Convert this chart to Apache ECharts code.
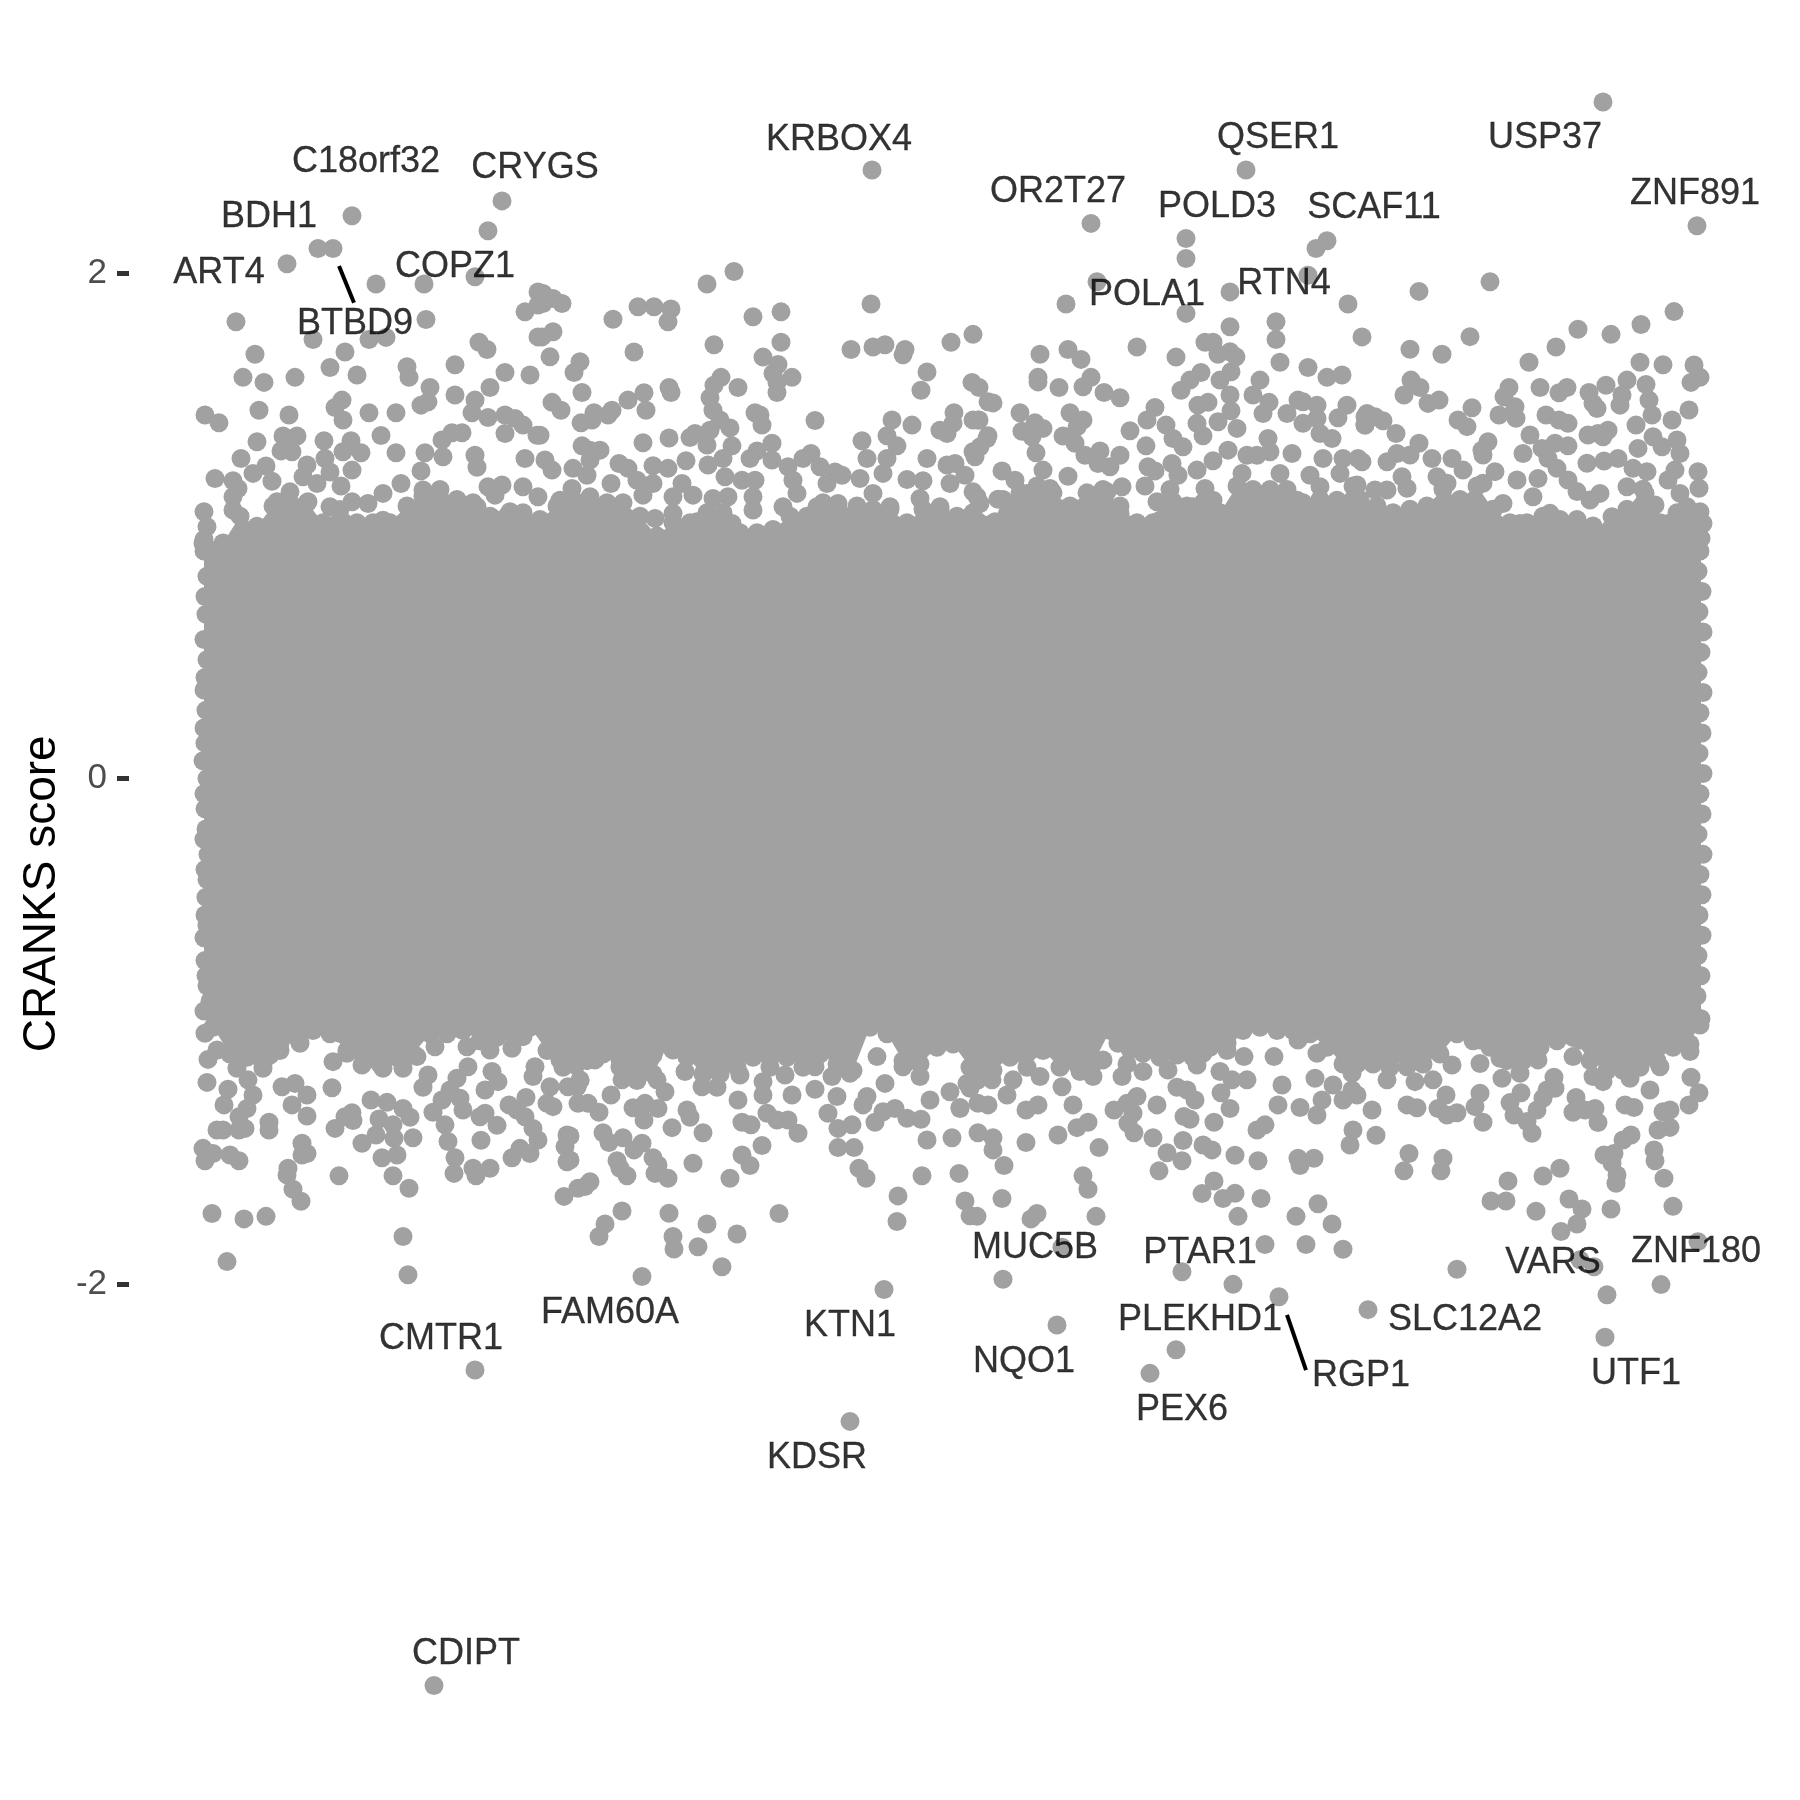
<!DOCTYPE html>
<html><head><meta charset="utf-8">
<style>html,body{margin:0;padding:0;background:#fff}#c{width:1800px;height:1800px}</style>
<script src="https://cdn.jsdelivr.net/npm/echarts@6/dist/echarts.min.js"></script></head>
<body><div id="c"></div>
<script>
// x = gene rank (arbitrary order, unlabeled axis), y = CRANKS score
const tickValues = [-2, 0, 2];
const axisTitle = 'CRANKS score';

// Solid core of the cloud, where single points cannot be told apart: its upper and lower rim
const rimTop = [[24,.946],[43,.932],[60,1.038],[77,.998],[93,1.078],[110,1.091],[127,1.091],[143,1.012],[160,1.064],[177,1.012],[193,1.012],[210,1.012],[227,1.078],[243,1.117],[260,1.143],[277,1.104],[293,1.091],[310,1.038],[327,1.038],[343,1.051],[360,1.025],[377,1.078],[393,1.104],[410,1.078],[427,1.091],[443,1.091],[460,1.038],[477,.959],[493,1.012],[510,1.012],[527,1.051],[543,1.051],[560,.972],[577,.972],[593,.985],[610,1.038],[627,1.038],[643,1.091],[660,1.051],[677,1.078],[693,1.064],[710,1.064],[727,1.012],[743,1.064],[760,1.064],[777,1.038],[793,1.051],[807,.946],[823,1.104],[840,1.13],[857,1.157],[873,1.13],[890,1.078],[907,1.13],[923,1.143],[940,1.078],[957,1.012],[973,1.012],[990,1.143],[1007,1.078],[1023,1.091],[1040,1.051],[1057,1.157],[1073,1.143],[1090,1.143],[1107,1.143],[1123,1.091],[1140,1.104],[1157,1.091],[1173,1.157],[1180,1.104],[1197,1.078],[1213,1.051],[1230,1.065],[1247,1.078],[1263,1.144],[1280,1.104],[1297,1.157],[1313,1.065],[1330,1.012],[1347,1.012],[1363,1.038],[1380,1.025],[1397,1.025],[1413,.999],[1430,.985],[1447,1.065],[1463,1.144],[1480,1.012],[1497,1.051],[1513,1.038],[1521,.95]];
const rimBottom = [[24,-.92],[33,-.984],[50,-1.09],[67,-1.103],[83,-1.129],[100,-1.076],[117,-1.024],[133,-.997],[150,-1.01],[167,-1.076],[183,-1.09],[200,-1.129],[217,-1.103],[233,-1.09],[250,-1.01],[267,-1.01],[283,-.997],[300,-1.037],[317,-1.024],[333,-1.01],[350,-.984],[367,-1.076],[383,-1.142],[400,-1.195],[407,-1.116],[423,-1.09],[440,-1.142],[457,-1.195],[473,-1.169],[490,-1.037],[507,-1.103],[523,-1.169],[540,-1.169],[557,-1.142],[573,-1.103],[590,-1.142],[607,-1.103],[623,-1.142],[640,-1.09],[657,-1.129],[673,-1.155],[690,-.984],[707,-1.01],[723,-1.116],[740,-1.129],[757,-1.063],[773,-1.05],[790,-1.142],[797,-1.195],[813,-1.155],[830,-1.103],[847,-1.142],[863,-1.076],[880,-1.142],[897,-1.129],[913,-1.129],[930,-.997],[947,-1.129],[963,-1.076],[980,-1.103],[997,-1.063],[1013,-1.103],[1030,-1.063],[1047,-1.076],[1063,-.997],[1080,-.984],[1097,-.997],[1113,-.997],[1130,-1.01],[1147,-1.063],[1163,-1.129],[1177,-1.129],[1193,-1.129],[1210,-1.142],[1227,-1.103],[1243,-1.129],[1260,-1.09],[1277,-1.01],[1293,-1.037],[1310,-1.063],[1327,-1.116],[1343,-1.116],[1360,-1.063],[1377,-1.037],[1393,-1.024],[1410,-1.116],[1427,-1.155],[1443,-1.155],[1460,-1.142],[1477,-1.116],[1493,-1.063],[1510,-1.05],[1521,-.95]];

const edgePoints = [[24,.90],[27,.80],[25,.72],[26,.65],[24,.55],[27,.47],[25,.40],[24,.35],[26,.27],[24,.20],[25,.14],[23,.07],[27,.0],[24,-.06],[25,-.12],[26,-.20],[24,-.24],[28,-.30],[25,-.36],[27,-.40],[26,-.47],[25,-.54],[27,-.58],[24,-.63],[25,-.72],[26,-.78],[27,-.82],[30,-.88],
[1520,.90],[1518,.82],[1522,.74],[1519,.66],[1523,.58],[1521,.50],[1518,.42],[1523,.34],[1520,.26],[1522,.18],[1519,.10],[1523,.02],[1520,-.06],[1522,-.14],[1518,-.22],[1523,-.30],[1520,-.38],[1522,-.46],[1519,-.54],[1522,-.62],[1518,-.70],[1521,-.78],[1517,-.86]];

const topPoints = [
[172,2.226],[322,2.285],[308,2.167],[138,2.097],[153,2.097],[107,2.036],[196,1.956],[244,1.956],[295,1.985],[246,1.816],[56,1.807],[345,1.846],[358,1.925],[358,1.873],[358,1.747],[133,1.737],[189,1.737],[206,1.745],[165,1.687],[299,1.726],[307,1.697],[75,1.678],[150,1.626],[227,1.629],[229,1.587],[275,1.637],[63,1.587],[84,1.567],[115,1.587],[177,1.596],[325,1.606],[350,1.596],[310,1.547],[250,1.547],[275,1.517],[295,1.497],[162,1.497],[155,1.468],[163,1.418],[79,1.457],[25,1.438],[39,1.407],[109,1.438],[189,1.447],[216,1.447],[241,1.477],[248,1.49],[201,1.357],[216,1.289],[292,1.447],[308,1.428],[325,1.438],[335,1.424],[343,1.398],[325,1.365],[357,1.358],[282,1.368],[272,1.368],[262,1.339],[295,1.279],[345,1.266],[245,1.289],[241,1.217],[297,1.231],[263,1.273],[77,1.332],[103,1.355],[117,1.355],[110,1.332],[101,1.296],[112,1.293],[144,1.336],[171,1.336],[163,1.293],[181,1.289],[172,1.22],[61,1.266],[86,1.236],[73,1.207],[92,1.176],[35,1.187],[53,1.178],[58,1.147],[53,1.115],[127,1.24],[123,1.194],[145,1.266],[150,1.213],[137,1.167],[161,1.157],[221,1.167],[203,1.128],[110,1.134],[97,1.095],[128,1.095],[172,1.095],[188,1.088],[243,1.141],[260,1.088],[297,1.075],[308,1.154],[322,1.161],[343,1.154],[315,1.121],[24,1.055],[53,1.062],[150,1.075],[330,1.055],[358,1.115],[27,.996],[77,.996],[110,1.016],[163,1.016],[203,1.022],[260,.996],[313,1.029],[23,.93],
[692,2.407],[554,2.006],[527,1.956],[691,1.877],[601,1.846],[573,1.827],[433,1.817],[458,1.866],[474,1.866],[491,1.857],[488,1.807],[382,1.879],[373,1.899],[363,1.919],[363,1.879],[373,1.767],[362,1.747],[370,1.668],[400,1.649],[394,1.606],[454,1.687],[534,1.716],[601,1.726],[671,1.697],[693,1.707],[705,1.716],[725,1.697],[723,1.676],[771,1.726],[793,1.757],[583,1.667],[598,1.638],[593,1.602],[612,1.587],[597,1.567],[597,1.527],[541,1.587],[534,1.556],[558,1.547],[530,1.506],[533,1.457],[747,1.608],[741,1.536],[792,1.567],[799,1.547],[808,1.49],[402,1.527],[372,1.488],[381,1.457],[448,1.497],[464,1.526],[466,1.457],[489,1.547],[491,1.527],[432,1.457],[428,1.438],[414,1.447],[412,1.418],[401,1.407],[635,1.416],[575,1.447],[580,1.438],[582,1.398],[712,1.418],[732,1.398],[774,1.447],[773,1.405],[760,1.378],[767,1.365],[793,1.418],[799,1.418],[360,1.358],[402,1.316],[410,1.299],[420,1.299],[463,1.328],[489,1.347],[510,1.349],[515,1.365],[530,1.378],[550,1.387],[540,1.418],[552,1.316],[527,1.319],[592,1.326],[577,1.296],[707,1.356],[682,1.336],[717,1.316],[747,1.266],[807,1.345],[793,1.293],[631,1.286],[623,1.266],[687,1.266],[707,1.266],[703,1.207],[506,1.257],[570,1.266],[365,1.26],[372,1.22],[393,1.227],[407,1.2],[410,1.26],[439,1.246],[448,1.227],[473,1.237],[488,1.227],[528,1.24],[543,1.266],[592,1.26],[608,1.233],[640,1.233],[655,1.213],[662,1.2],[727,1.183],[743,1.178],[767,1.24],[775,1.246],[785,1.2],[545,1.194],[562,1.18],[575,1.18],[613,1.18],[647,1.167],[680,1.187],[693,1.128],[431,1.167],[392,1.147],[457,1.18],[473,1.167],[502,1.167],[463,1.121],[410,1.115],[380,1.101],[493,1.115],[513,1.121],[533,1.108],[548,1.115],[573,1.115],[617,1.128],[793,1.134],[740,1.108],[770,1.167],[800,1.088],[760,1.075],[710,1.075],[658,1.088],[573,1.062],[475,1.029],[493,1.049],[517,1.016],[393,1.049],[373,.983],[427,1.062],[453,.996],[552,1.009],[603,1.075],[637,1.075],[673,.996],[693,.996],[790,1.035],[808,1.003],
[1066,2.407],[911,2.196],[1006,2.136],[1006,2.057],[1147,2.127],[1136,2.097],[1128,1.991],[917,1.965],[1050,1.925],[886,1.877],[1168,1.877],[1006,1.84],[1096,1.807],[1050,1.787],[1182,1.747],[1096,1.737],[957,1.707],[888,1.697],[901,1.658],[860,1.678],[996,1.667],[1025,1.726],[1033,1.726],[1038,1.678],[1050,1.688],[1056,1.668],[1051,1.609],[1040,1.576],[1100,1.647],[1128,1.626],[1147,1.587],[1162,1.596],[1021,1.606],[1010,1.576],[1001,1.536],[1080,1.576],[1073,1.517],[911,1.587],[903,1.55],[858,1.587],[858,1.569],[879,1.547],[924,1.527],[940,1.506],[813,1.486],[840,1.447],[890,1.447],[903,1.418],[975,1.468],[967,1.418],[1028,1.488],[1018,1.477],[1050,1.517],[1051,1.455],[1089,1.488],[1167,1.477],[1158,1.427],[1118,1.497],[1123,1.49],[1137,1.477],[1107,1.444],[1083,1.444],[1123,1.405],[1137,1.424],[798,1.418],[855,1.407],[863,1.385],[842,1.374],[852,1.352],[883,1.355],[897,1.391],[950,1.376],[986,1.398],[1017,1.405],[1057,1.385],[1038,1.411],[1023,1.356],[1140,1.365],[1152,1.345],[1185,1.431],[1185,1.398],[1088,1.345],[808,1.356],[800,1.312],[856,1.289],[895,1.326],[920,1.296],[966,1.316],[940,1.279],[905,1.279],[993,1.345],[1003,1.312],[1033,1.257],[1077,1.279],[1067,1.279],[1112,1.286],[1090,1.293],[1143,1.266],[1163,1.266],[1178,1.266],[1048,1.299],[795,1.273],[863,1.22],[822,1.217],[835,1.18],[888,1.196],[918,1.246],[930,1.233],[968,1.233],[975,1.217],[992,1.246],[998,1.2],[1017,1.22],[1062,1.207],[1100,1.207],[1130,1.2],[1160,1.207],[965,1.157],[942,1.154],[927,1.134],[1025,1.147],[818,1.105],[797,1.115],[847,1.128],[870,1.147],[1140,1.154],[1177,1.161],[977,1.095],[993,1.095],[1013,1.075],[1060,1.082],[1033,1.101],[815,1.016],[1090,1.115],[1117,1.101],[1157,1.101],[1183,1.062],[890,1.075],[920,1.055],[940,1.049],[980,1.022],[840,1.062],[1037,1.022],[798,1.016],[1140,1.022],[1080,1.009],[867,.996],[1007,.996],
[1423,2.676],[1517,2.187],[1310,1.965],[1239,1.927],[1494,1.847],[1398,1.777],[1461,1.796],[1431,1.757],[1376,1.707],[1290,1.748],[1349,1.647],[1230,1.698],[1262,1.678],[1460,1.647],[1483,1.637],[1514,1.636],[1520,1.587],[1511,1.567],[1231,1.576],[1240,1.547],[1224,1.517],[1248,1.484],[1259,1.497],[1292,1.467],[1329,1.547],[1324,1.51],[1335,1.471],[1319,1.438],[1336,1.425],[1360,1.547],[1387,1.547],[1379,1.526],[1409,1.527],[1413,1.484],[1417,1.464],[1426,1.556],[1447,1.576],[1442,1.517],[1440,1.477],[1466,1.559],[1469,1.497],[1472,1.438],[1509,1.458],[1492,1.418],[1456,1.398],[1366,1.438],[1379,1.418],[1388,1.405],[1278,1.418],[1287,1.392],[1187,1.444],[1195,1.431],[1203,1.415],[1185,1.398],[1216,1.365],[1350,1.359],[1408,1.359],[1418,1.365],[1428,1.378],[1423,1.352],[1375,1.326],[1388,1.316],[1362,1.306],[1308,1.332],[1302,1.299],[1303,1.28],[1239,1.326],[1230,1.28],[1217,1.286],[1207,1.253],[1343,1.286],[1252,1.266],[1272,1.266],[1182,1.253],[1368,1.266],[1407,1.247],[1424,1.256],[1438,1.266],[1458,1.306],[1473,1.352],[1497,1.339],[1500,1.286],[1482,1.312],[1467,1.214],[1453,1.227],[1518,1.214],[1519,1.148],[1495,1.22],[1488,1.181],[1500,1.128],[1447,1.154],[1420,1.128],[1410,1.102],[1465,1.128],[1475,1.082],[1463,1.062],[1432,1.036],[1520,1.055],[1523,1.009],[1507,1.075],[1488,1.009],[1520,.95],[1222,1.194],[1227,1.148],[1257,1.194],[1283,1.22],[1267,1.168],[1315,1.214],[1337,1.181],[1303,1.168],[1358,1.187],[1377,1.227],[1388,1.181],[1397,1.135],[1353,1.115],[1323,1.088],[1207,1.141],[1195,1.141],[1340,1.009],[1370,1.049],[1247,1.049],[1202,1.036],[1290,1.049],[1313,1.062]
];

const bottomPoints = [
[254,-3.588],[670,-2.543],
[295,-2.34],[228,-1.963],[223,-1.812],[47,-1.911],[32,-1.721],[64,-1.742],[86,-1.732],[121,-1.672],[113,-1.625],[107,-1.568],[108,-1.542],[159,-1.571],[213,-1.571],[229,-1.621],[202,-1.5],[217,-1.489],[384,-1.653],[387,-1.516],[385,-1.456],[387,-1.41],[274,-1.562],[293,-1.542],[296,-1.571],[310,-1.542],[275,-1.5],[268,-1.436],[265,-1.37],[301,-1.431],[332,-1.5],[340,-1.463],[350,-1.483],[358,-1.43],[353,-1.384],[345,-1.338],[337,-1.311],[329,-1.291],[346,-1.262],[317,-1.372],[300,-1.338],[305,-1.324],[283,-1.311],[280,-1.265],[253,-1.32],[262,-1.272],[233,-1.421],[214,-1.423],[182,-1.443],[196,-1.41],[199,-1.347],[213,-1.37],[230,-1.34],[223,-1.305],[207,-1.281],[191,-1.272],[155,-1.384],[165,-1.338],[172,-1.322],[173,-1.353],[127,-1.335],[112,-1.291],[127,-1.252],[115,-1.206],[102,-1.219],[152,-1.223],[89,-1.36],[89,-1.39],[122,-1.443],[127,-1.483],[122,-1.489],[23,-1.463],[33,-1.483],[25,-1.512],[50,-1.489],[59,-1.512],[37,-1.39],[43,-1.39],[65,-1.384],[59,-1.39],[59,-1.338],[67,-1.305],[44,-1.291],[48,-1.229],[27,-1.202],[73,-1.252],[28,-1.111],[25,-1.008],[37,-1.074],[35,-.942],[57,-1.146],[68,-1.192],[83,-1.146],[90,-1.094],[58,-1.074],[77,-1.034],[100,-1.047],[120,-1.047],[153,-1.12],[167,-1.087],[182,-1.133],[187,-1.1],[203,-1.146],[223,-1.146],[213,-1.074],[237,-1.1],[248,-1.173],[243,-1.221],[270,-1.232],[277,-1.186],[288,-1.14],[312,-1.159],[318,-1.199],[305,-1.232],[255,-1.061],[233,-.968],[287,-1.061],[310,-1.074],[332,-1.067],[343,-1.021],[355,-1.14],[353,-1.179],[370,-1.219],[370,-1.074],[380,-1.113],[367,-1.285],[373,-1.298],[388,-1.219],[398,-1.285],[398,-1.621],[127,-.955],[200,-.995],[160,-1.008],[397,-1.219],
[462,-1.97],[542,-1.931],[704,-2.021],[494,-1.861],[493,-1.812],[518,-1.852],[557,-1.802],[527,-1.762],[489,-1.72],[599,-1.721],[419,-1.812],[425,-1.762],[442,-1.711],[717,-1.752],[718,-1.651],[790,-1.73],[785,-1.671],[779,-1.562],[742,-1.571],[747,-1.43],[772,-1.421],[405,-1.614],[410,-1.595],[550,-1.581],[570,-1.531],[562,-1.489],[582,-1.452],[513,-1.522],[488,-1.581],[475,-1.562],[478,-1.529],[473,-1.5],[447,-1.571],[440,-1.542],[437,-1.512],[686,-1.581],[679,-1.542],[674,-1.46],[658,-1.46],[658,-1.384],[672,-1.37],[648,-1.324],[695,-1.36],[703,-1.318],[715,-1.305],[727,-1.344],[741,-1.348],[683,-1.291],[687,-1.258],[618,-1.403],[608,-1.351],[597,-1.351],[587,-1.324],[562,-1.36],[571,-1.37],[492,-1.381],[523,-1.401],[510,-1.34],[507,-1.311],[462,-1.443],[454,-1.469],[443,-1.421],[429,-1.44],[423,-1.401],[390,-1.414],[390,-1.509],[464,-1.351],[453,-1.302],[465,-1.285],[478,-1.305],[485,-1.239],[419,-1.32],[408,-1.285],[431,-1.252],[397,-1.219],[400,-1.192],[558,-1.272],[583,-1.252],[612,-1.252],[635,-1.229],[657,-1.258],[522,-1.219],[537,-1.221],[560,-1.173],[583,-1.199],[605,-1.173],[505,-1.159],[477,-1.192],[455,-1.173],[442,-1.192],[705,-1.206],[750,-1.272],[780,-1.305],[770,-1.239],[740,-1.179],[723,-1.14],[670,-1.166],[652,-1.179],[635,-1.14],[697,-1.1],[440,-1.113],[415,-1.113],[473,-1.094],[493,-1.074],[787,-1.206],
[970,-2.353],[996,-2.26],[877,-2.162],[1099,-2.05],[823,-1.981],[1053,-2.001],[1002,-1.951],[882,-1.854],[1085,-1.843],[1126,-1.843],[1163,-1.862],[916,-1.732],[1058,-1.732],[1116,-1.732],[1152,-1.762],[1138,-1.682],[797,-1.732],[851,-1.742],[857,-1.721],[822,-1.661],[1081,-1.661],[908,-1.625],[903,-1.571],[824,-1.531],[979,-1.552],[1022,-1.642],[1034,-1.592],[1043,-1.661],[1055,-1.641],[1055,-1.49],[1078,-1.512],[1118,-1.502],[1134,-1.502],[1120,-1.531],[1002,-1.512],[1003,-1.432],[987,-1.48],[973,-1.421],[1032,-1.469],[1023,-1.45],[919,-1.46],[846,-1.44],[878,-1.41],[897,-1.381],[908,-1.36],[798,-1.401],[813,-1.421],[813,-1.469],[1085,-1.37],[1077,-1.39],[1170,-1.45],[1173,-1.39],[1034,-1.36],[954,-1.401],[948,-1.364],[1010,-1.348],[1004,-1.337],[1050,-1.305],[1098,-1.291],[1137,-1.331],[1120,-1.301],[934,-1.311],[947,-1.285],[957,-1.258],[953,-1.324],[977,-1.291],[893,-1.291],[858,-1.291],[846,-1.311],[808,-1.291],[798,-1.285],[780,-1.301],[827,-1.252],[1015,-1.272],[997,-1.221],[1007,-1.232],[1041,-1.243],[1067,-1.192],[1052,-1.192],[1040,-1.159],[1102,-1.212],[1135,-1.186],[1153,-1.212],[1172,-1.232],[1142,-1.272],[882,-1.219],[913,-1.179],[900,-1.159],[942,-1.179],[963,-1.159],[988,-1.153],[1017,-1.133],[963,-1.087],[923,-1.113],[1064,-1.1],[1094,-1.1],[997,-1.094],[1137,-1.087],[1170,-1.127],[833,-1.192],[812,-1.192],[790,-1.225],[860,-1.179],[938,-1.047],[1047,-1.047],[1118,-1.034],[987,-1.047],[1023,-1.087],[910,-1.034],
[1425,-2.21],[1427,-2.042],[1188,-2.101],[1481,-2.002],[1277,-1.941],[1414,-1.931],[1400,-1.904],[1518,-1.832],[1493,-1.692],[1431,-1.703],[1356,-1.712],[1311,-1.671],[1326,-1.671],[1328,-1.592],[1363,-1.572],[1380,-1.542],[1389,-1.663],[1402,-1.703],[1397,-1.762],[1381,-1.792],[1484,-1.581],[1475,-1.512],[1474,-1.469],[1436,-1.601],[1437,-1.568],[1432,-1.522],[1424,-1.489],[1434,-1.483],[1443,-1.43],[1451,-1.41],[1224,-1.552],[1229,-1.483],[1261,-1.552],[1263,-1.502],[1196,-1.411],[1192,-1.311],[1227,-1.291],[1237,-1.302],[1303,-1.36],[1300,-1.245],[1295,-1.298],[1266,-1.252],[1258,-1.305],[1267,-1.331],[1277,-1.322],[1352,-1.403],[1334,-1.331],[1330,-1.282],[1347,-1.357],[1357,-1.311],[1363,-1.265],[1367,-1.232],[1374,-1.182],[1375,-1.225],[1341,-1.243],[1418,-1.361],[1415,-1.305],[1405,-1.311],[1393,-1.32],[1396,-1.262],[1445,-1.291],[1454,-1.301],[1478,-1.39],[1490,-1.38],[1483,-1.318],[1490,-1.311],[1509,-1.291],[1519,-1.243],[1511,-1.182],[1470,-1.232],[1177,-1.252],[1163,-1.272],[1207,-1.192],[1235,-1.199],[1253,-1.192],[1272,-1.133],[1300,-1.127],[1322,-1.186],[1340,-1.166],[1358,-1.113],[1320,-1.107],[1413,-1.179],[1423,-1.199],[1450,-1.186],[1480,-1.14],[1510,-1.08],[1172,-1.166],[1393,-1.1],[1227,-1.14],[1250,-1.061],[1520,-.975],[1472,-.975],[1453,-1.047],[1513,-.929],[1318,-.981],[1167,-.955],[1217,-1.008],[1300,-1.034],[1367,-.942],[1443,-.955],[1400,-1.034],[1503,-1.041]
];

const labelNames = ['C18orf32','CRYGS','BDH1','ART4','COPZ1','BTBD9','KRBOX4','OR2T27','QSER1','POLD3','SCAF11','POLA1','RTN4','USP37','ZNF891','CMTR1','CDIPT','FAM60A','KTN1','KDSR','MUC5B','PTAR1','PLEKHD1','NQO1','RGP1','PEX6','SLC12A2','VARS','ZNF180','UTF1'];
const labelRanks = [186,355,89,39,275,175,659,878,1098,1037,1194,967,1104,1365,1515,261,286,430,670,637,855,1020,1020,844,1181,1002,1285,1373,1516,1456];
const labelScores = [2.437,2.415,2.22,1.998,2.022,1.798,2.525,2.32,2.533,2.259,2.255,1.913,1.955,2.532,2.311,-2.219,-3.464,-2.115,-2.167,-2.687,-1.858,-1.878,-2.144,-2.309,-2.364,-2.497,-2.142,-1.917,-1.875,-2.355];

const btbd9Segment = [[159,2.027],[174,1.882]];
const rgp1Segment = [[1107,-2.122],[1126,-2.34]];

const POINT = '#a1a1a1';
const FONT = '"Liberation Sans", Arial, sans-serif';
const allPoints = rimTop.concat(rimBottom, edgePoints, topPoints, bottomPoints);
const chart = echarts.init(document.getElementById('c'), null, {renderer:'canvas'});
const seg = d => ({type:'line',data:d,symbol:'none',silent:true,z:5,lineStyle:{color:'#000',width:4,cap:'butt'}});
chart.setOption({
  animation:false, backgroundColor:'#fff',
  textStyle:{fontFamily:FONT},
  grid:{left:129,right:0,top:-2.1,bottom:10.3,outerBoundsMode:'none',containLabel:false},
  xAxis:{type:'value',min:-51,max:1620,show:false},
  yAxis:{type:'value',min:-4,max:3.088,interval:2,position:'left',
    name:axisTitle,nameLocation:'middle',nameRotate:90,nameGap:64,nameMoveOverlap:false,
    nameTextStyle:{fontSize:46,color:'#000',fontFamily:FONT},
    splitLine:{show:false},axisLine:{show:false,onZero:false},
    axisTick:{show:true,length:12,customValues:tickValues,lineStyle:{color:'#333333',width:5}},
    axisLabel:{show:true,margin:22,customValues:tickValues,fontSize:35,color:'#4d4d4d',fontFamily:FONT}},
  series:[
    {type:'custom',silent:true,z:1,coordinateSystem:'cartesian2d',data:[[0,0]],clip:false,
     renderItem:(p,api)=>{
       const pts=rimTop.concat(rimBottom.slice().reverse()).map(d=>api.coord(d));
       return {type:'polygon',shape:{points:pts},style:{fill:POINT}};
     }},
    {type:'scatter',data:allPoints,symbol:'circle',symbolSize:19,silent:true,z:2,large:false,
     itemStyle:{color:POINT,opacity:1}},
    seg(btbd9Segment),seg(rgp1Segment),
    {type:'scatter',symbolSize:0,silent:true,z:6,
     data:labelNames.map((n,i)=>({name:n,value:[labelRanks[i],labelScores[i]]})),
     label:{show:true,position:'inside',formatter:'{b}',fontSize:36,color:'#000',align:'center',verticalAlign:'middle',fontFamily:FONT,textBorderColor:'#000',textBorderWidth:0.3},
     labelLayout:{hideOverlap:false}}
  ]
});
</script></body></html>
